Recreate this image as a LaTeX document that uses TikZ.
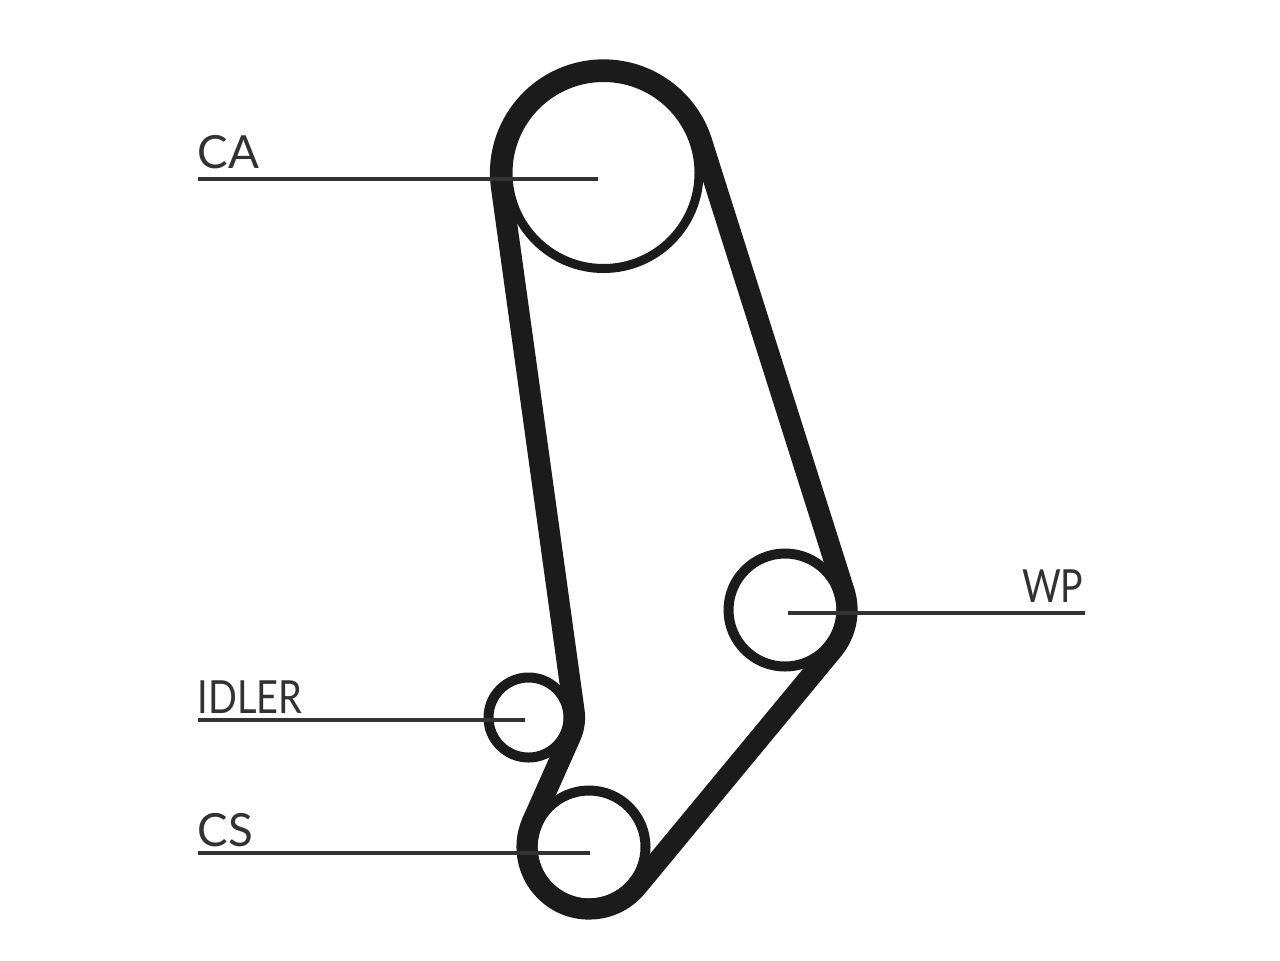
\documentclass[tikz,border=0pt]{standalone}
\usepackage{fontspec}
\setmainfont{Lato}
\definecolor{beltblack}{HTML}{1B1B1B}
\tikzset{
    pulley/.style={draw=beltblack,circle,line width=0.1cm,inner sep=0pt,outer sep=0pt},
    belt/.style={draw=beltblack,line width=0.212cm,line join=round},
    leader/.style={draw=beltblack!90,line width=0.04cm},
    tag/.style={inner sep=0pt,anchor=base west,text=beltblack!90,font=\fontsize{13}{13}\selectfont}
}
\begin{document}
\begin{tikzpicture}
    \useasboundingbox (0,0) rectangle (12.8,9.6);

    % pulleys
    \node[pulley,line width=0.09cm,minimum size=1.91cm] (ca) at (6.035,7.87) {};
    \node[pulley,minimum size=1.13cm] (wp) at (7.85,3.50) {};
    \node[pulley,minimum size=1.13cm] (cs) at (5.89,1.13) {};
    \node[pulley,minimum size=0.80cm] (idler) at (5.285,2.425) {};

    % belt
    \draw[belt] (5.015,7.729) arc[start angle=187.9,end angle=17.6,radius=1.03]
        -- (8.441,3.687) arc[start angle=17.6,end angle=-39.6,radius=0.62]
        -- (6.368,0.735) arc[start angle=-39.6,end angle=-203.7,radius=0.62]
        -- (5.706,2.240) arc[start angle=-23.7,end angle=7.9,radius=0.46]
        -- cycle;

    % labels
    \node[tag] (catag) at (1.97,7.92) {CA};
    \node[tag] (idlertag) at (1.97,2.47) {\scalebox{0.83}[1]{IDLER}};
    \node[tag] (cstag) at (1.97,1.14) {CS};
    \node[tag,anchor=base east] (wptag) at (10.84,3.58) {\scalebox{0.82}[1]{WP}};

    \coordinate (castart) at (1.98,7.815);
    \coordinate (caend) at (5.98,7.815);
    \coordinate (idlerstart) at (1.98,2.40);
    \coordinate (idlerend) at (5.25,2.40);
    \coordinate (csstart) at (1.98,1.07);
    \coordinate (csend) at (5.90,1.07);
    \coordinate (wpstart) at (10.85,3.47);
    \coordinate (wpend) at (7.88,3.47);

    \draw[leader] (castart) -- (caend);
    \draw[leader] (idlerstart) -- (idlerend);
    \draw[leader] (csstart) -- (csend);
    \draw[leader] (wpstart) -- (wpend);
\end{tikzpicture}
\end{document}
